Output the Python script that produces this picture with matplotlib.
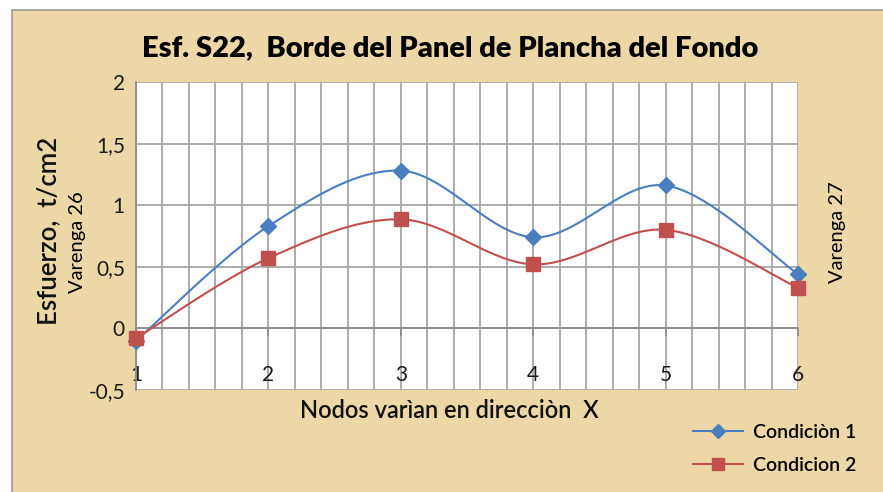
import numpy as np
import matplotlib
matplotlib.use("Agg")
import matplotlib.pyplot as plt
from matplotlib.ticker import MultipleLocator, FuncFormatter
from matplotlib.patches import Rectangle
from matplotlib.lines import Line2D

nodes = [1, 2, 3, 4, 5, 6]
condicion_1 = [-0.10, 0.83, 1.28, 0.74, 1.16, 0.44]
condicion_2 = [-0.08, 0.57, 0.885, 0.52, 0.80, 0.33]
y_ticks = [-0.5, 0, 0.5, 1, 1.5, 2]

title = "Esf. S22,  Borde del Panel de Plancha del Fondo"
x_label = "Nodos varìan en direcciòn  X"
y_label = "Esfuerzo,  t/cm2"
left_note = "Varenga 26"
right_note = "Varenga 27"
series_names = ["Condiciòn 1", "Condicion 2"]

BLUE = "#4A7EBF"
RED = "#C0504D"
BG = "#EED7A6"
FONT = "Lato"


def smooth(xs, ys, n=40):
    """Cubic Bezier smoothing through every point (Catmull-Rom control points)."""
    p = np.column_stack([xs, ys]).astype(float)
    ext = np.vstack([p[0], p, p[-1]])
    out = []
    t = np.linspace(0, 1, n)[:, None]
    for i in range(len(p) - 1):
        p0, p1, p2, p3 = ext[i], ext[i + 1], ext[i + 2], ext[i + 3]
        c1 = p1 + (p2 - p0) / 6.0
        c2 = p2 - (p3 - p1) / 6.0
        seg = ((1 - t) ** 3) * p1 + 3 * ((1 - t) ** 2) * t * c1 + 3 * (1 - t) * t ** 2 * c2 + t ** 3 * p2
        out.append(seg if i == 0 else seg[1:])
    s = np.vstack(out)
    return s[:, 0], s[:, 1]


W, H = 883, 492
fig = plt.figure(figsize=(W / 100, H / 100), dpi=100)
fig.patch.set_facecolor("white")

# chart area with frame
fig.patches.append(Rectangle((12 / W, -0.01), 1.0, 1 - 10 / H + 0.01, transform=fig.transFigure,
                             facecolor=BG, edgecolor="#9A9A9A", linewidth=1.2, zorder=-5))

ax = fig.add_axes([136 / W, 1 - 390 / H, (798 - 136) / W, (390 - 82) / H])
ax.set_zorder(2)
ax.set_facecolor("white")
ax.set_xlim(1, 6)
ax.set_ylim(-0.5, 2)

ax.xaxis.set_major_locator(MultipleLocator(1))
ax.xaxis.set_minor_locator(MultipleLocator(0.2))
ax.set_yticks(y_ticks)
ax.yaxis.set_major_formatter(FuncFormatter(lambda v, _: ("%g" % v).replace(".", ",")))
ax.xaxis.set_major_formatter(FuncFormatter(lambda v, _: "%d" % v))

ax.grid(True, which="both", axis="x", color="#A6A6A6", linewidth=1.3, zorder=1)
ax.grid(True, which="major", axis="y", color="#A6A6A6", linewidth=1.3, zorder=1)

for side in ("top", "right"):
    ax.spines[side].set_visible(False)
ax.spines["left"].set_color("#8C8C8C")
ax.spines["left"].set_linewidth(1.3)
ax.spines["bottom"].set_position(("data", 0))
ax.spines["bottom"].set_color("#8C8C8C")
ax.spines["bottom"].set_linewidth(1.3)

ax.tick_params(axis="x", which="major", direction="out", length=6, width=1.2, color="#8C8C8C",
               pad=20, labelsize=15, labelcolor="#1A1A1A")
ax.tick_params(axis="x", which="minor", length=0)
ax.tick_params(axis="y", which="major", length=0, pad=8, labelsize=15, labelcolor="#1A1A1A")
for lab in ax.get_xticklabels() + ax.get_yticklabels():
    lab.set_fontfamily(FONT)

sx, sy = smooth(nodes, condicion_1)
ax.plot(sx, sy, color=BLUE, linewidth=1.5, zorder=3, clip_on=False)
ax.plot(nodes, condicion_1, linestyle="none", marker="D", markersize=8, color=BLUE, zorder=4, clip_on=False)
sx, sy = smooth(nodes, condicion_2)
ax.plot(sx, sy, color=RED, linewidth=1.5, zorder=3, clip_on=False)
ax.plot(nodes, condicion_2, linestyle="none", marker="s", markersize=10, color=RED, zorder=5, clip_on=False)

fig.text(450 / W, 1 - 48 / H, title, ha="center", va="center", fontsize=21, fontweight="heavy",
         fontfamily=FONT)
fig.text(449 / W, 1 - 411 / H, x_label, ha="center", va="center", fontsize=17, fontweight="semibold",
         fontfamily=FONT, color="#111111")
fig.text(49 / W, 1 - 231 / H, y_label, ha="center", va="center", rotation=90, fontsize=18.5,
         fontweight="semibold", fontfamily=FONT, color="#111111")
fig.text(77 / W, 1 - 242 / H, left_note, ha="center", va="center", rotation=90, fontsize=14.5,
         fontfamily=FONT)
fig.text(838 / W, 1 - 232 / H, right_note, ha="center", va="center", rotation=90, fontsize=14.5,
         fontfamily=FONT)

handles = [
    Line2D([], [], color=BLUE, linewidth=1.5, marker="D", markersize=7),
    Line2D([], [], color=RED, linewidth=1.5, marker="s", markersize=9),
]
leg = fig.legend(handles, series_names, loc="center left", bbox_to_anchor=(675 / W, 1 - 449 / H),
                 frameon=False, handlelength=2.6, labelspacing=0.85, handletextpad=0.5,
                 prop={"family": FONT, "size": 14, "weight": "semibold"})

fig.savefig("out.png", dpi=100, facecolor=fig.get_facecolor())
